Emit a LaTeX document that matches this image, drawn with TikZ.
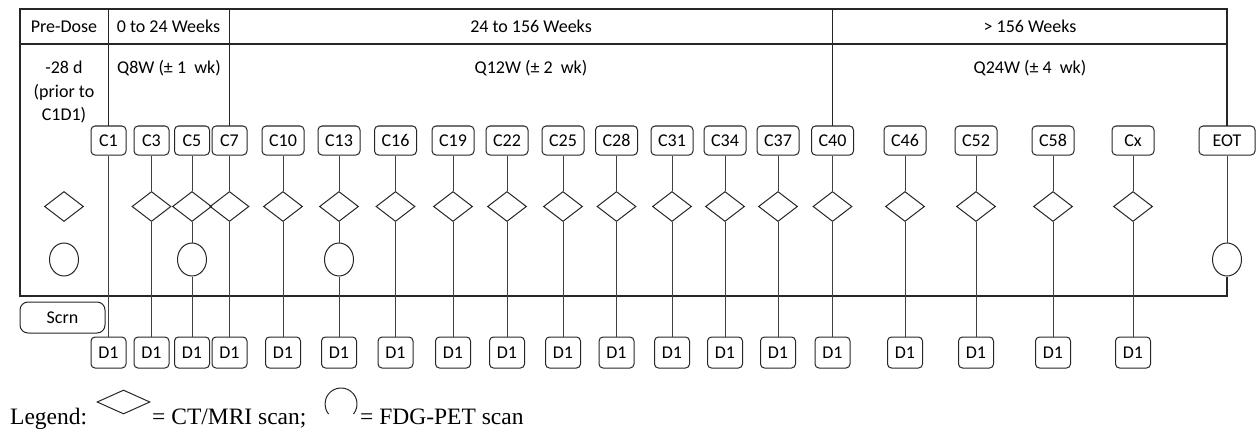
\documentclass[tikz,border=0pt]{standalone}
\usepackage{fontspec}
\setmainfont{Carlito}
\newfontfamily\legendfont{Liberation Serif}
\usetikzlibrary{shapes.geometric}
\begin{document}
\begin{tikzpicture}[x=1pt,y=-1pt,
  font=\fontsize{18}{22}\selectfont,
  frame/.style={draw=black!85, line width=1.1pt},
  link/.style={draw=black!75, line width=1pt},
  visit/.style={draw=black!85, line width=1pt, rounded corners=4pt,
    minimum width=35pt, minimum height=29pt, inner sep=0pt},
  dose/.style={visit, minimum height=31pt},
  ctscan/.style={draw=black!85, line width=1pt, shape=diamond,
    minimum width=39pt, minimum height=30pt, inner sep=0pt},
  petscan/.style={draw=black!85, line width=1pt, ellipse,
    minimum width=29pt, minimum height=33pt, inner sep=0pt},
  legendtext/.style={anchor=base west, inner sep=0pt,
    font=\legendfont\fontsize{23.5}{28}\selectfont},
]
\useasboundingbox (0,0) rectangle (1257,433);

% frame corners
\coordinate (tl) at (20,9);
\coordinate (tr) at (1227,9);
\coordinate (bl) at (20,296);
\coordinate (br) at (1227,296);
\coordinate (hl) at (20,44);
\coordinate (hr) at (1227,44);

% period headers
\node[anchor=base] (hpre) at (64,33) {Pre-Dose};
\node[anchor=base] (hq8) at (168.5,33) {0 to 24 Weeks};
\node[anchor=base] (hq12) at (531,33) {24 to 156 Weeks};
\node[anchor=base] (hq24) at (1030,33) {> 156 Weeks};

% visit windows
\node[anchor=base] (wpre1) at (64,74) {-28 d};
\node[anchor=base] (wpre2) at (64,97.5) {(prior to};
\node[anchor=base] (wpre3) at (64,121) {C1D1)};
\node[anchor=base] (wq8) at (169,74) {Q8W (± 1~ wk)};
\node[anchor=base] (wq12) at (531,74) {Q12W (± 2~ wk)};
\node[anchor=base] (wq24) at (1030,74) {Q24W (± 4~ wk)};

% cycle visits and day-1 dosing
\foreach \n/\x/\w in {C1/108.5/35, C3/151.5/35, C5/192/35, C7/229.5/35,
    C10/283/42, C13/339/42, C16/395.5/42, C19/453/42, C22/507/42,
    C25/563/42, C28/616.5/42, C31/672/42, C34/725/42, C37/778/42,
    C40/832.5/42, C46/905/42, C52/976/42, C58/1053/42, Cx/1133/42} {
  \node[visit, minimum width=\w pt] (\n) at (\x,140.5) {\n};
  \node[dose] (D-\n) at (\x,352.5) {D1};
}
\node[visit, minimum width=56pt] (EOT) at (1227,140.5) {EOT};

% screening scans
\node[ctscan] (pre-ct) at (64,206.5) {};
\node[petscan] (pre-pet) at (64,259.5) {};

% on-treatment scans
\foreach \n in {C3,C5,C7,C10,C13,C16,C19,C22,C25,C28,C31,C34,C37,C40,C46,C52,C58,Cx} {
  \node[ctscan] (\n-ct) at (\n |- pre-ct) {};
}
\foreach \n in {C5,C13,EOT} {
  \node[petscan] (\n-pet) at (\n |- pre-pet) {};
}

% screening visit
\node[visit, rounded corners=8pt, minimum width=85pt, minimum height=31pt]
  (scrn) at (62.5,317.5) {Scrn};

% timeline frame
\draw[frame] (EOT.north) -- (tr) -- (tl) -- (bl) -- (br) -- (EOT-pet.south);
\draw[frame] (hl) -- (hr);
\draw[frame] (C1 |- tl) -- (C1.north);
\draw[frame] (C7 |- tl) -- (C7.north);
\draw[frame] (C40 |- tl) -- (C40.north);

% visit connectors
\draw[link] (C1.south) -- (D-C1.north);
\foreach \n in {C3,C7,C10,C16,C19,C22,C25,C28,C31,C34,C37,C40,C46,C52,C58,Cx} {
  \draw[link] (\n.south) -- (\n-ct.north);
  \draw[link] (\n-ct.south) -- (D-\n.north);
}
\foreach \n in {C5,C13} {
  \draw[link] (\n.south) -- (\n-ct.north);
  \draw[link] (\n-ct.south) -- (\n-pet.north);
  \draw[link] (\n-pet.south) -- (D-\n.north);
}
\draw[link] (EOT.south) -- (EOT-pet.north);

% legend
\node[legendtext] (lg) at (10,424) {Legend:};
\node[ctscan, minimum width=53pt, minimum height=24pt] (lg-ct) at (123.5,402) {};
\node[legendtext] (lg-cttext) at (152,424) {= CT/MRI scan;};
\draw[draw=black!85, line width=1pt] (353.5,414) arc[start angle=-38.7, end angle=218.7, radius=16pt];
\node[legendtext] (lg-pettext) at (360,424) {= FDG-PET scan};
\end{tikzpicture}
\end{document}
